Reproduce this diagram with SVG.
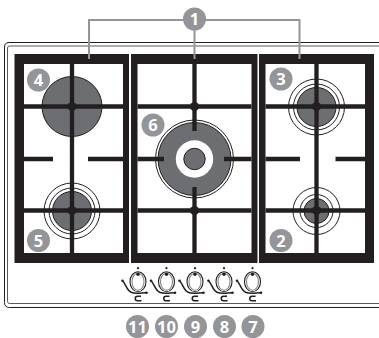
<svg xmlns="http://www.w3.org/2000/svg" width="379" height="338" viewBox="0 0 379 338">
<style>
.grate{fill:#231f20}
.bar{stroke:#231f20;stroke-width:4.300;fill:none}
.ring{fill:none;stroke:#231f20;stroke-width:1}
.gas{fill:#6d6e71;stroke:#231f20;stroke-width:1}
.hub{fill:#231f20}
.lead{fill:none;stroke:#939598;stroke-width:2}
.badge{fill:#939598}
.num{fill:#fff;font-family:"Open Sans","DejaVu Sans",sans-serif;font-weight:700;font-size:16.5px;text-anchor:middle}
.kl{fill:none;stroke:#231f20;stroke-width:1.1}
.kt{fill:none;stroke:#231f20;stroke-width:1.5}
</style>
<defs>
<g id="knob">
<circle cx="0" cy="-13.500" r="1.100" class="hub"/>
<circle cx="0" cy="-7.500" r="1.700" class="hub"/>
<ellipse cx="0" cy="0" rx="8" ry="10" class="kl"/>
<ellipse cx="0" cy="0" rx="6" ry="8.500" class="kl" stroke-opacity=".55"/>
<path d="M-15 -0.500C-12 3 -11 9 -7 10.500C-2 12.500 3 11 8 11" class="kt"/>
<circle cx="-15.500" cy="-1" r="1.300" class="hub"/>
<circle cx="8.500" cy="11" r="1.300" class="hub"/>
<path d="M3 14.500H-0.500C-3.500 14.500 -3.500 19 -0.500 19H3.500" class="kt"/>
</g>
</defs>
<g id="panel" fill="none">
<path d="M379 42.500H9Q4.500 42.500 4.500 47V302.500Q4.500 307.500 9.500 307.500H379" stroke="#231f20" stroke-width="1"/>
<path d="M379 46H9.500Q7.500 46 7.500 48V301.500Q7.500 303.500 9.500 303.500H379" stroke="#58595b" stroke-width="1"/>
</g>
<g id="burner-4"><circle cx="72" cy="106.500" r="30" class="gas"/></g>
<g id="burner-5">
<circle cx="72" cy="211" r="28" class="ring"/><circle cx="72" cy="211" r="23" class="ring"/><circle cx="72" cy="211" r="19.500" class="gas"/>
</g>
<g id="burner-3">
<circle cx="316.500" cy="107" r="28" class="ring"/><circle cx="316.500" cy="107" r="23" class="ring"/><circle cx="316.500" cy="107" r="19.500" class="gas"/>
</g>
<g id="burner-2">
<circle cx="316.500" cy="211" r="23.500" class="ring"/><circle cx="316.500" cy="211" r="16.500" class="ring"/><circle cx="316.500" cy="211" r="12.500" class="gas"/>
</g>
<g id="burner-6">
<circle cx="194.500" cy="159" r="39" class="ring"/><circle cx="194.500" cy="159" r="36.500" class="gas"/>
<circle cx="194.500" cy="159" r="18.700" fill="#fff"/>
<circle cx="194.500" cy="159" r="10.700" class="gas"/>
</g>
<g id="grates">
<path class="grate" fill-rule="evenodd" d="M14.500 54H129V263H14.500ZM24 64V253H123V64Z"/>
<path class="grate" fill-rule="evenodd" d="M131 54H257.500V263H131ZM137.500 64V253H251.500V64Z"/>
<path class="grate" fill-rule="evenodd" d="M259 54H374V263H259ZM265.500 64V253H365V64Z"/>
<path class="bar" d="M72 64V253M24 106.500H123M24 210.500H123M24 159H53M88 159H123"/>
<path class="bar" d="M194.500 64V131M194.500 187V253M137.500 106.500H251.500M137.500 210.500H251.500M137.500 159H164M224 159H251.500"/>
<path class="bar" d="M316.500 64V253M265.500 106.500H365M265.500 210.500H365M265.500 159H300M335.500 159H365"/>
<circle cx="72" cy="106.500" r="4.500" class="hub"/><circle cx="72" cy="210.500" r="4.500" class="hub"/>
<circle cx="194.500" cy="106.500" r="4.500" class="hub"/><circle cx="194.500" cy="210.500" r="4.500" class="hub"/>
<circle cx="316.500" cy="106.500" r="4.500" class="hub"/><circle cx="316.500" cy="210.500" r="4.500" class="hub"/>
</g>
<g id="connectors">
<path class="lead" d="M89 59V20H299.500V59M194.500 20V59"/>
</g>
<g id="knob-11"><use href="#knob" x="138" y="281.700"/></g>
<g id="knob-10"><use href="#knob" x="166.500" y="281.700"/></g>
<g id="knob-9"><use href="#knob" x="195" y="281.700"/></g>
<g id="knob-8"><use href="#knob" x="224" y="281.700"/></g>
<g id="knob-7"><use href="#knob" x="252.500" y="281.700"/></g>
<g id="n1"><circle cx="194.500" cy="19" r="11.500" class="badge"/><text x="194.500" y="25" class="num">1</text></g>
<g id="n2"><circle cx="281" cy="240.500" r="11.500" class="badge"/><text x="281" y="246.500" class="num">2</text></g>
<g id="n3"><circle cx="281" cy="79" r="11.500" class="badge"/><text x="281" y="85" class="num">3</text></g>
<g id="n4"><circle cx="38.500" cy="80" r="11.500" class="badge"/><text x="38.500" y="86" class="num">4</text></g>
<g id="n5"><circle cx="38.500" cy="240.500" r="11.500" class="badge"/><text x="38.500" y="246.500" class="num">5</text></g>
<g id="n6"><circle cx="153" cy="125" r="11.500" class="badge"/><text x="153" y="131" class="num">6</text></g>
<g id="n7"><circle cx="253" cy="326.500" r="11.500" class="badge"/><text x="253" y="332.500" class="num">7</text></g>
<g id="n8"><circle cx="224.500" cy="326.500" r="11.500" class="badge"/><text x="224.500" y="332.500" class="num">8</text></g>
<g id="n9"><circle cx="195.500" cy="326.500" r="11.500" class="badge"/><text x="195.500" y="332.500" class="num">9</text></g>
<g id="n10"><circle cx="166.500" cy="326.500" r="11.500" class="badge"/><text x="166.500" y="332.500" class="num">10</text></g>
<g id="n11"><circle cx="137.500" cy="326.500" r="11.500" class="badge"/><text x="137.500" y="332.500" class="num">11</text></g>
</svg>
